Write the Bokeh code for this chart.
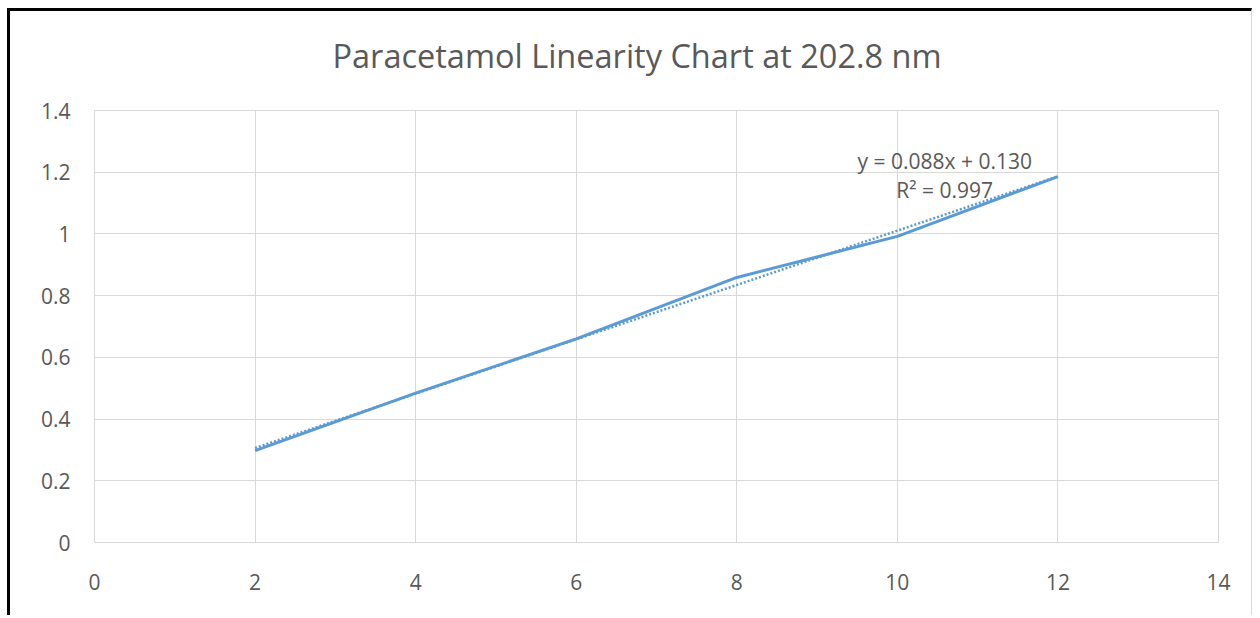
import numpy as np
from bokeh.plotting import figure
from bokeh.models import Range1d, FixedTicker, Label, Title
from bokeh.embed import file_html
from bokeh.resources import INLINE

# Data
concentration = [2, 4, 6, 8, 10, 12]
absorbance = [0.298, 0.484, 0.660, 0.859, 0.992, 1.186]
x_ticks = [0, 2, 4, 6, 8, 10, 12, 14]
y_ticks = [0, 0.2, 0.4, 0.6, 0.8, 1.0, 1.2, 1.4]
y_tick_labels = {0: "0", 0.2: "0.2", 0.4: "0.4", 0.6: "0.6", 0.8: "0.8", 1.0: "1", 1.2: "1.2", 1.4: "1.4"}
title_text = "Paracetamol Linearity Chart at 202.8 nm"
eq_text = "y = 0.088x + 0.130"
r2_text = "R² = 0.997"

FONT = "Open Sans"
TXT = "#595959"
GRID = "#d9d9d9"
BLUE = "#5B9BD5"

p = figure(width=1245, height=607, output_backend="svg", toolbar_location=None,
           x_range=Range1d(0, 14), y_range=Range1d(0, 1.4),
           min_border_left=84, min_border_right=37, min_border_top=99, min_border_bottom=76)
p.styles = {"margin-left": "7px", "margin-top": "8px",
            "border-top": "3px solid black", "border-left": "3px solid black",
            "border-right": "1px solid #d9d9d9"}

p.title.text = ""

# spacer between plot frame and title, then the title itself
spacer = Title(text=" ", text_font_size="1px", standoff=25)
p.add_layout(spacer, "above")
main_title = Title(text=title_text, align="left", offset=238, standoff=10,
                   text_font=FONT, text_font_size="32.5px", text_font_style="normal",
                   text_color=TXT)
p.add_layout(main_title, "above")

p.outline_line_color = GRID
p.outline_line_width = 1
p.background_fill_color = "white"
p.border_fill_color = "white"

for ax in (p.xaxis[0], p.yaxis[0]):
    ax.axis_line_color = None
    ax.major_tick_line_color = None
    ax.minor_tick_line_color = None
    ax.major_tick_out = 0
    ax.major_tick_in = 0
    ax.major_label_text_font = FONT
    ax.major_label_text_font_size = "21px"
    ax.major_label_text_color = TXT

p.xaxis[0].ticker = FixedTicker(ticks=x_ticks)
p.yaxis[0].ticker = FixedTicker(ticks=y_ticks)
p.yaxis[0].major_label_overrides = y_tick_labels
p.xaxis[0].major_label_standoff = 31
p.yaxis[0].major_label_standoff = 24

p.xgrid[0].ticker = FixedTicker(ticks=x_ticks)
p.ygrid[0].ticker = FixedTicker(ticks=y_ticks)
p.grid.grid_line_color = GRID
p.grid.grid_line_width = 1

# Linear trendline (least squares) over the data range
xs = np.array(concentration, dtype=float)
ys = np.array(absorbance, dtype=float)
m, b = np.polyfit(xs, ys, 1)
tx = np.array([xs.min(), xs.max()])
p.line(tx, m * tx + b, line_color=BLUE, line_width=2.5, line_dash="2 2")

p.line(concentration, absorbance, line_color=BLUE, line_width=3)

p.add_layout(Label(x=10.59, y=1.236, text=eq_text, text_align="center", text_baseline="middle",
                   text_font=FONT, text_font_size="21px", text_color=TXT))
p.add_layout(Label(x=10.59, y=1.142, text=r2_text, text_align="center", text_baseline="middle",
                   text_font=FONT, text_font_size="21px", text_color=TXT))

open("out.html", "w").write(file_html(p, INLINE))
